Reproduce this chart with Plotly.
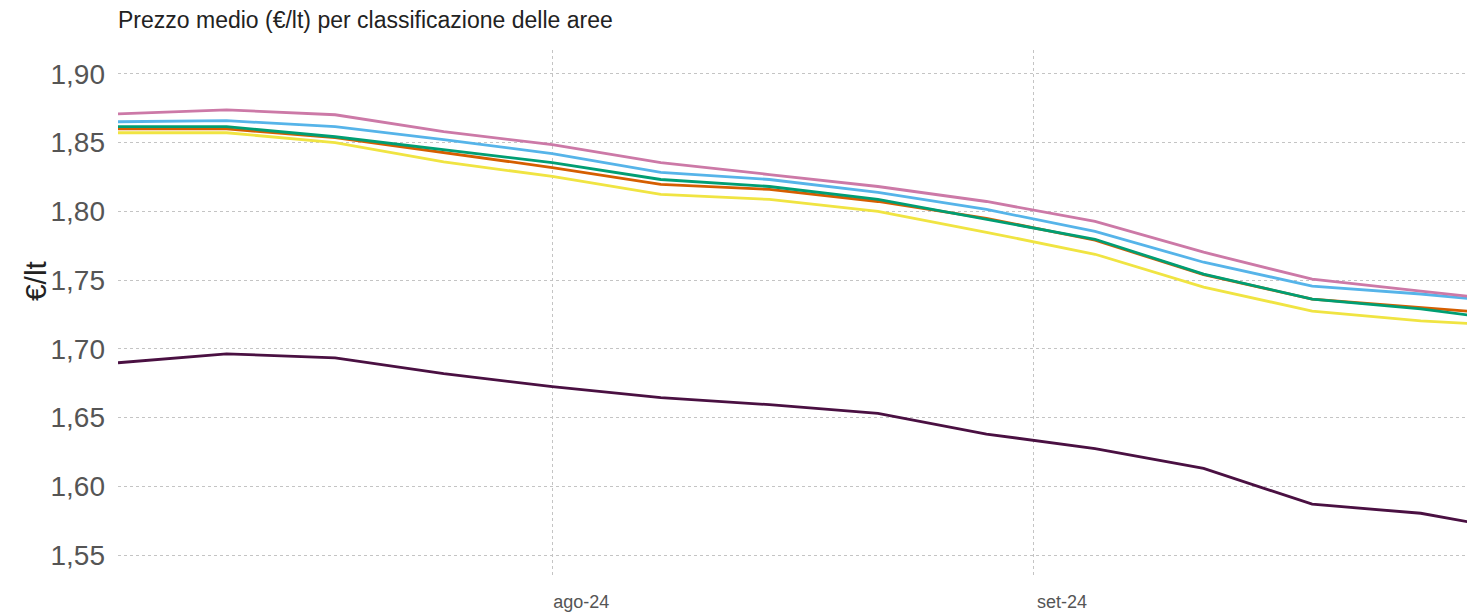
import plotly.graph_objects as go

dates = ["2024-07-04", "2024-07-11", "2024-07-18", "2024-07-25", "2024-08-01", "2024-08-08",
         "2024-08-15", "2024-08-22", "2024-08-29", "2024-09-05", "2024-09-12", "2024-09-19",
         "2024-09-26", "2024-10-03"]

pink = [1.8710, 1.8739, 1.8703, 1.8580, 1.8486, 1.8355, 1.8268, 1.8181, 1.8072, 1.7928, 1.7703, 1.7507, 1.7420, 1.7334]
blue = [1.8652, 1.8660, 1.8616, 1.8522, 1.8420, 1.8283, 1.8232, 1.8138, 1.8014, 1.7855, 1.7630, 1.7457, 1.7399, 1.7325]
orange = [1.8600, 1.8600, 1.8536, 1.8428, 1.8319, 1.8196, 1.8160, 1.8072, 1.7950, 1.7790, 1.7540, 1.7362, 1.7297, 1.7239]
green = [1.8616, 1.8616, 1.8543, 1.8449, 1.8355, 1.8232, 1.8181, 1.8087, 1.7942, 1.7797, 1.7543, 1.7362, 1.7290, 1.7188]
yellow = [1.8572, 1.8572, 1.8500, 1.8360, 1.8254, 1.8123, 1.8087, 1.8000, 1.7848, 1.7688, 1.7449, 1.7275, 1.7203, 1.7160]
dark = [1.6899, 1.6964, 1.6935, 1.6820, 1.6725, 1.6645, 1.6594, 1.6530, 1.6380, 1.6275, 1.6130, 1.5870, 1.5804, 1.5660]

xtick_vals = ["2024-08-01", "2024-09-01"]
xtick_text = ["ago-24", "set-24"]
ytick_vals = [1.55, 1.60, 1.65, 1.70, 1.75, 1.80, 1.85, 1.90]

series = [
    ("dark", dark, "#4a1042"),
    ("yellow", yellow, "#F0E442"),
    ("orange", orange, "#D55E00"),
    ("green", green, "#009E73"),
    ("blue", blue, "#56B4E9"),
    ("pink", pink, "#CC79A7"),
]

fig = go.Figure()
for name, vals, col in series:
    fig.add_trace(go.Scatter(x=dates, y=vals, mode="lines", name=name,
                             line=dict(color=col, width=2.8), showlegend=False))

fig.update_layout(
    width=1475, height=612,
    margin=dict(l=110, r=8, t=42, b=40),
    paper_bgcolor="white", plot_bgcolor="white",
    separators=",.",
    font=dict(family="Liberation Sans, Arial, sans-serif", color="#444"),
    title=dict(text="Prezzo medio (€/lt) per classificazione delle aree",
               x=110 / 1475, xanchor="left", y=1 - 12 / 612, yanchor="middle",
               font=dict(size=23, color="#222")),
)
fig.add_annotation(
    text="€/lt", xref="paper", yref="paper", textangle=-90,
    x=-83 / 1357, xanchor="center", y=(572 - 274) / 530, yanchor="middle",
    showarrow=False, font=dict(size=30, color="#222"),
)
fig.update_xaxes(
    range=["2024-07-04", "2024-09-29 12:00"],
    tickvals=xtick_vals, ticktext=xtick_text,
    showgrid=True, gridcolor="#c4c4c4", griddash="dot", gridwidth=1,
    zeroline=False, showline=False, ticks="",
    ticklabelstandoff=11, ticklabelshift=29,
    tickfont=dict(size=18, color="#555"),
)
fig.update_yaxes(
    range=[1.5333, 1.9174],
    tickvals=ytick_vals, tickformat=".2f",
    showgrid=True, gridcolor="#c4c4c4", griddash="dot", gridwidth=1,
    zeroline=False, showline=False, ticks="", ticklen=0,
    ticklabelstandoff=12,
    tickfont=dict(size=28, color="#555"),
)

fig.write_html("out.html")
